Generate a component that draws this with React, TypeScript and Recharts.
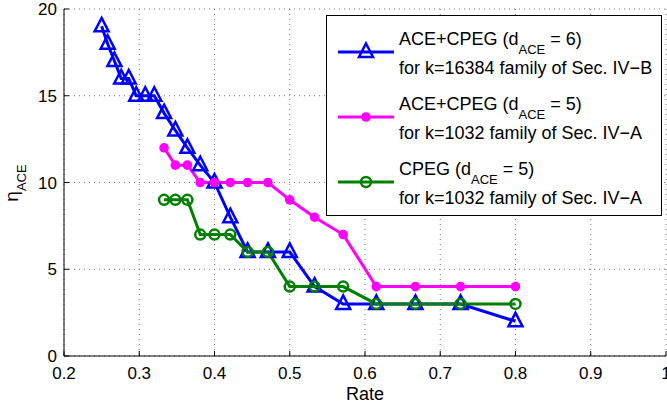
import {
  CartesianGrid,
  Legend,
  Line,
  LineChart,
  XAxis,
  YAxis,
} from "recharts";

const FONT = '"Liberation Sans", Arial, Helvetica, sans-serif';

// rates
const blueRate = [
  0.25, 0.258, 0.267, 0.276, 0.286, 0.296, 0.308, 0.32, 0.333, 0.348, 0.364,
  0.381, 0.4, 0.421, 0.444, 0.471, 0.5, 0.533, 0.571, 0.615, 0.667, 0.727, 0.8,
];
const blueEta = [19, 18, 17, 16, 16, 15, 15, 15, 14, 13, 12, 11, 10, 8, 6, 6, 6, 4, 3, 3, 3, 3, 2];

const k1032Rate = [
  0.333, 0.348, 0.364, 0.381, 0.4, 0.421, 0.444, 0.471, 0.5, 0.533, 0.571,
  0.615, 0.667, 0.727, 0.8,
];
const magentaEta = [12, 11, 11, 10, 10, 10, 10, 10, 9, 8, 7, 4, 4, 4, 4];
const greenEta = [9, 9, 9, 7, 7, 7, 6, 6, 4, 4, 4, 3, 3, 3, 3];

const xTicks = [0.2, 0.3, 0.4, 0.5, 0.6, 0.7, 0.8, 0.9, 1];
const yTicks = [0, 5, 10, 15, 20];

const seriesTitle = ["ACE+CPEG", "ACE+CPEG", "CPEG"];
const seriesDAce = [6, 5, 5];
const seriesFamily = [
  "for k=16384 family of Sec. IV\u2212B",
  "for k=1032 family of Sec. IV\u2212A",
  "for k=1032 family of Sec. IV\u2212A",
];
const seriesColor = ["#0000ff", "#ff00ff", "#008000"];
const seriesMarker = ["triangle", "dot", "circle"];

const toPoints = (xs: number[], ys: number[]) =>
  xs.map((x, i) => ({ x, y: ys[i] }));

const blueData = toPoints(blueRate, blueEta);
const magentaData = toPoints(k1032Rate, magentaEta);
const greenData = toPoints(k1032Rate, greenEta);

function Marker({ kind, cx, cy, color }: any) {
  if (kind === "triangle") {
    const pts = `${cx},${cy - 8.5} ${cx + 7},${cy + 5} ${cx - 7},${cy + 5}`;
    return (
      <polygon
        points={pts}
        fill="none"
        stroke={color}
        strokeWidth={2.5}
        strokeLinejoin="miter"
      />
    );
  }
  if (kind === "dot") return <circle cx={cx} cy={cy} r={4.8} fill={color} />;
  return (
    <circle cx={cx} cy={cy} r={5} fill="none" stroke={color} strokeWidth={2.5} />
  );
}

const dotFor = (i: number) => (p: any) => (
  <Marker
    key={`m${i}-${p.index}`}
    kind={seriesMarker[i]}
    cx={p.cx}
    cy={p.cy}
    color={seriesColor[i]}
  />
);

function LegendBox() {
  return (
    <div
      style={{
        position: "relative",
        width: 334,
        height: 199,
        border: "1px solid #000",
        background: "#fff",
        fontFamily: FONT,
        fontSize: 18,
        color: "#000",
      }}
    >
      {seriesTitle.map((title, i) => (
        <div
          key={i}
          style={{ position: "absolute", left: 0, top: 5 + i * 65, width: 334, height: 65 }}
        >
          <svg
            width={64}
            height={40}
            style={{ position: "absolute", left: 8, top: 11 }}
          >
            <line x1={3} y1={20} x2={59} y2={20} stroke={seriesColor[i]} strokeWidth={3} />
            <Marker kind={seriesMarker[i]} cx={31} cy={20} color={seriesColor[i]} />
          </svg>
          <div
            style={{
              position: "absolute",
              left: 72,
              top: 3.5,
              lineHeight: "29px",
              whiteSpace: "nowrap",
            }}
          >
            <div>
              {title} (d
              <span
                style={{
                  fontSize: 13,
                  position: "relative",
                  top: 9,
                  lineHeight: 0,
                }}
              >
                ACE
              </span>{" "}
              = {seriesDAce[i]})
            </div>
            <div>{seriesFamily[i]}</div>
          </div>
        </div>
      ))}
    </div>
  );
}

const tickStyle = { fontSize: 17, fill: "#000", fontFamily: FONT };

export default function App() {
  return (
    <div style={{ width: 667, height: 409, background: "#fff" }}>
      <style>{`body{margin:0}`}</style>
      <LineChart
        width={667}
        height={409}
        margin={{ top: 9, right: 1, bottom: 0, left: 0 }}
      >
        <CartesianGrid
          stroke="#777"
          strokeDasharray="1 4"
          horizontalValues={yTicks}
          verticalValues={xTicks}
        />
        <XAxis
          dataKey="x"
          type="number"
          domain={[0.2, 1]}
          ticks={xTicks}
          interval={0}
          allowDataOverflow
          height={53}
          tickSize={-5}
          tickMargin={16}
          stroke="#000"
          tick={tickStyle}
          tickFormatter={(v) => (v === 1 ? "1" : v.toFixed(1))}
          label={{
            content: ({ viewBox }: any) => (
              <text
                x={viewBox.x + viewBox.width / 2}
                y={400}
                textAnchor="middle"
                fontSize={18}
                fontFamily={FONT}
                fill="#000"
              >
                Rate
              </text>
            ),
          }}
        />
        <XAxis
          xAxisId="top"
          orientation="top"
          type="number"
          domain={[0.2, 1]}
          ticks={xTicks}
          interval={0}
          height={0}
          tickSize={-5}
          stroke="#000"
          tickFormatter={() => ""}
        />
        <YAxis
          type="number"
          domain={[0, 20]}
          ticks={yTicks}
          interval={0}
          width={64}
          tickSize={-5}
          tickMargin={12}
          stroke="#000"
          tick={tickStyle}
          label={{
            content: () => (
              <text
                x={18}
                y={183}
                transform="rotate(-90 18 183)"
                textAnchor="middle"
                fontFamily={FONT}
                fill="#000"
              >
                <tspan fontSize={19}>η</tspan>
                <tspan fontSize={13} dy={8}>
                  ACE
                </tspan>
              </text>
            ),
          }}
        />
        <YAxis
          yAxisId="right"
          orientation="right"
          type="number"
          domain={[0, 20]}
          ticks={yTicks}
          interval={0}
          width={0}
          tickSize={-5}
          stroke="#000"
          tickFormatter={() => ""}
        />
        <Line
          data={blueData}
          dataKey="y"
          name="blue"
          stroke={seriesColor[0]}
          strokeWidth={3}
          dot={dotFor(0)}
          activeDot={false}
          isAnimationActive={false}
        />
        <Line
          data={magentaData}
          dataKey="y"
          name="magenta"
          stroke={seriesColor[1]}
          strokeWidth={3}
          dot={dotFor(1)}
          activeDot={false}
          isAnimationActive={false}
        />
        <Line
          data={greenData}
          dataKey="y"
          name="green"
          stroke={seriesColor[2]}
          strokeWidth={3}
          dot={dotFor(2)}
          activeDot={false}
          isAnimationActive={false}
        />
        <Legend
          layout="vertical"
          align="center"
          verticalAlign="middle"
          content={() => <LegendBox />}
          wrapperStyle={{ left: 326, top: 15, width: 336, height: 201 }}
        />
      </LineChart>
    </div>
  );
}
